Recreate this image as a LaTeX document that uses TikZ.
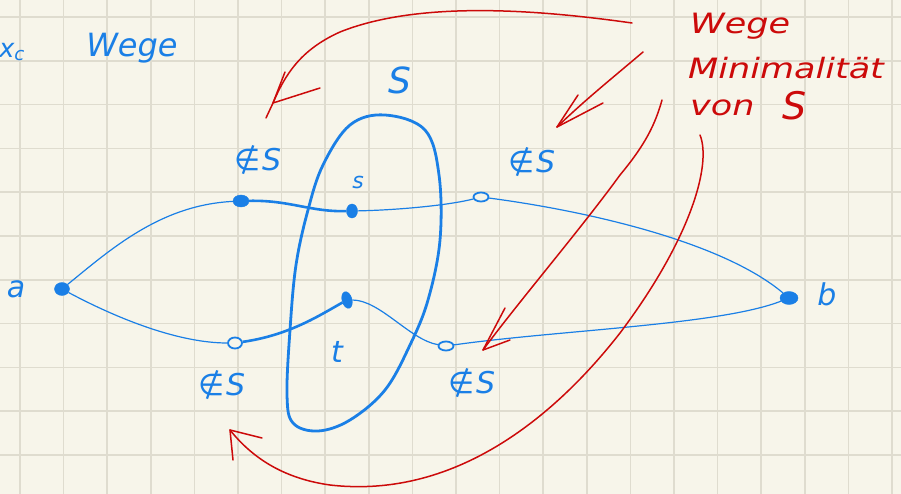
\documentclass[tikz,border=0pt]{standalone}
\usepackage{fontspec}
\setmainfont{DejaVu Sans}
\usetikzlibrary{shapes.geometric}
\definecolor{paper}{HTML}{F7F5EA}
\definecolor{gridc}{HTML}{DFDCCF}
\definecolor{pen}{HTML}{1A7FE6}
\definecolor{redpen}{HTML}{CC0A0A}
\tikzset{
  gridline/.style={gridc, line width=1.6pt},
  dotf/.style={ellipse, fill=pen, draw=pen, inner sep=0pt, minimum width=11pt, minimum height=10pt},
  doto/.style={ellipse, draw=pen, line width=1.8pt, fill=paper, inner sep=0pt, minimum width=15pt, minimum height=9pt},
  wire/.style={pen, line width=1.2pt},
  thickwire/.style={pen, line width=2.6pt},
  loopline/.style={pen, line width=2.8pt, line join=round},
  redline/.style={redpen, line width=1.5pt, line cap=round, line join=round},
  bluetext/.style={pen, font=\itshape\fontsize{26}{28}\selectfont, inner sep=0pt},
  notinlabel/.style={pen, font=\fontsize{30}{32}\selectfont, inner sep=0pt},
  redtext/.style={redpen, font=\itshape\fontsize{28}{30}\selectfont, inner sep=0pt, anchor=west}
}
\newcommand{\wide}[1]{\scalebox{1.25}[1]{#1}}
\newcommand{\nS}{∉\kern1pt\textit{S}}
\begin{document}
\begin{tikzpicture}[x=1pt,y=-1pt]
\fill[paper] (0,0) rectangle (901,494);
\useasboundingbox (0,0) rectangle (901,494);
\foreach \i in {0,...,20} \draw[gridline] ({20+43.6*\i},0) -- ({20+43.6*\i},494);
\foreach \j in {0,...,10} \draw[gridline] (0,{17+43.8*\j}) -- (901,{17+43.8*\j});

% title texts
\node[bluetext] (xc) at (12,52) {x\textsubscript{c}};
\node[bluetext, font=\itshape\fontsize{32}{34}\selectfont] (wege) at (132,48) {Wege};
\node[bluetext, font=\itshape\fontsize{36}{38}\selectfont] (Slabel) at (400,80) {S};

% the set S
\draw[loopline] plot[smooth cycle, tension=0.6] coordinates {(385,115) (425,130) (439,175) (440,240) (428,300) (410,345) (385,390) (350,420) (318,431) (293,423) (287,395) (290,330) (296,265) (308,210) (323,165) (350,125)};

% vertices
\node[dotf, minimum width=15pt, minimum height=13pt] (a) at (62,289) {};
\node[dotf, minimum width=16pt, minimum height=12pt] (u1) at (241,201) {};
\node[dotf, minimum width=11pt, minimum height=14pt] (s) at (352,211) {};
\node[dotf, minimum width=10pt, minimum height=17pt, rotate=15] (t) at (347,300) {};
\node[doto] (u2) at (481,197) {};
\node[doto, minimum width=14pt, minimum height=11pt] (l1) at (235,343) {};
\node[doto] (l2) at (446,346) {};
\node[dotf, minimum width=18pt, minimum height=13pt] (b) at (789,298) {};

% paths
\draw[wire] (a) .. controls (110,250) and (160,205) .. (u1);
\draw[thickwire] (u1) .. controls (290,200) and (310,212) .. (s);
\draw[wire] (s) .. controls (400,210) and (450,205) .. (u2);
\draw[wire] (u2) .. controls (580,210) and (720,240) .. (b);
\draw[wire] (a) .. controls (120,320) and (180,343) .. (l1);
\draw[thickwire] (l1) .. controls (290,335) and (320,315) .. (t);
\draw[wire] (t) .. controls (380,300) and (410,340) .. (l2);
\draw[wire] (l2) .. controls (560,330) and (720,325) .. (b);

% vertex labels
\node[bluetext, font=\itshape\fontsize{30}{32}\selectfont] (alab) at (16,289) {a};
\node[bluetext, font=\itshape\fontsize{30}{32}\selectfont] (blab) at (827,294) {b};
\node[bluetext, font=\itshape\fontsize{22}{24}\selectfont] (slab) at (358,182) {s};
\node[bluetext, font=\itshape\fontsize{30}{32}\selectfont] (tlab) at (337,352) {t};
\node[notinlabel] (nu1) at (258,160) {\nS};
\node[notinlabel] (nu2) at (532,162) {\nS};
\node[notinlabel] (nl1) at (222,385) {\nS};
\node[notinlabel] (nl2) at (472,383) {\nS};

% red annotation
\node[redtext] (r1) at (690,26) {\wide{Wege}};
\node[redtext] (r2) at (688,68) {\wide{Minimalität}};
\node[redtext] (r3) at (690,108) {\wide{von}};
\node[redtext, font=\itshape\fontsize{38}{40}\selectfont] (r4) at (782,106) {S};

% red arrows
\draw[redline] (632,23) .. controls (540,10) and (420,0) .. (340,32) .. controls (300,50) and (285,75) .. (273,103) -- (266,118);
\draw[redline] (285,72) -- (273,103) -- (320,88);
\draw[redline] (643,52) .. controls (610,80) and (585,100) .. (557,127);
\draw[redline] (578,95) -- (557,127) -- (603,103);
\draw[redline] (662,100) .. controls (655,125) and (645,145) .. (620,175) .. controls (580,230) and (520,300) .. (483,350);
\draw[redline] (505,308) -- (483,350) -- (510,340);
\draw[redline] (700,135) .. controls (712,165) and (690,240) .. (620,333) .. controls (560,410) and (460,500) .. (330,485) .. controls (280,478) and (250,455) .. (230,430);
\draw[redline] (233,460) -- (230,430) -- (262,438);
\end{tikzpicture}
\end{document}
